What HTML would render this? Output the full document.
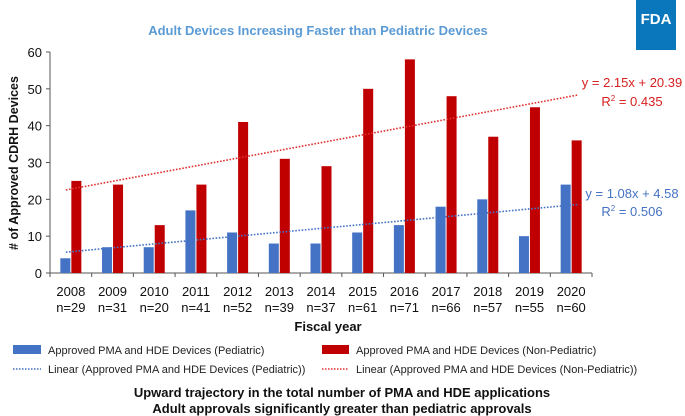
<!DOCTYPE html>
<html><head><meta charset="utf-8"><style>
body{margin:0;background:#fff;}
svg{display:block;font-family:"Liberation Sans",Arial,sans-serif;}
</style></head><body>
<svg id="chart" width="685" height="416" viewBox="0 0 685 416">
<rect x="636" y="0" width="40" height="50" fill="#0a77bd"/>
<text x="656" y="24" text-anchor="middle" fill="#fff" font-size="15" font-weight="bold">FDA</text>
<text x="318" y="35" text-anchor="middle" fill="#5b9bd5" font-size="13" font-weight="bold">Adult Devices Increasing Faster than Pediatric Devices</text>
<text transform="translate(18,163) rotate(-90)" text-anchor="middle" font-size="12.5" font-weight="bold" fill="#111"># of Approved CDRH Devices</text>
<g id="ticks"></g><g id="bars"></g><g id="trends"></g>
<text x="328" y="331" text-anchor="middle" font-size="13" font-weight="bold" fill="#111">Fiscal year</text>
<text x="632" y="87" text-anchor="middle" font-size="13" fill="#d62020">y = 2.15x + 20.39</text>
<text x="632" y="106" text-anchor="middle" font-size="13" fill="#d62020">R<tspan font-size="8" dy="-5">2</tspan><tspan dy="5"> = 0.435</tspan></text>
<text x="632" y="198" text-anchor="middle" font-size="13" fill="#4472c4">y = 1.08x + 4.58</text>
<text x="632" y="216" text-anchor="middle" font-size="13" fill="#4472c4">R<tspan font-size="8" dy="-5">2</tspan><tspan dy="5"> = 0.506</tspan></text>
<g font-size="11" fill="#222">
<rect x="13" y="345" width="28" height="9" fill="#4472c4"/>
<text x="48" y="354">Approved PMA and HDE Devices (Pediatric)</text>
<rect x="322" y="345" width="27" height="9" fill="#c00000"/>
<text x="356" y="354">Approved PMA and HDE Devices (Non-Pediatric)</text>
<line x1="13" y1="369" x2="41" y2="369" stroke="#4472c4" stroke-width="1.5" stroke-dasharray="1.5,1.5"/>
<text x="48" y="373">Linear (Approved PMA and HDE Devices (Pediatric))</text>
<line x1="322" y1="369" x2="349" y2="369" stroke="#e03030" stroke-width="1.5" stroke-dasharray="1.5,1.5"/>
<text x="356" y="373">Linear (Approved PMA and HDE Devices (Non-Pediatric))</text>
</g>
<text x="342" y="397" text-anchor="middle" font-size="13" font-weight="bold" fill="#111">Upward trajectory in the total number of PMA and HDE applications</text>
<text x="342" y="413" text-anchor="middle" font-size="13" font-weight="bold" fill="#111">Adult approvals significantly greater than pediatric approvals</text>
</svg>
<script>
const years=["2008","2009","2010","2011","2012","2013","2014","2015","2016","2017","2018","2019","2020"];
const totals=["n=29","n=31","n=20","n=41","n=52","n=39","n=37","n=61","n=71","n=66","n=57","n=55","n=60"];
const pediatric=[4,7,7,17,11,8,8,11,13,18,20,10,24];
const nonPediatric=[25,24,13,24,41,31,29,50,58,48,37,45,36];
const yTicks=[0,10,20,30,40,50,60];
const pedTrend=[1.08,4.58];
const nonPedTrend=[2.15,20.39];
const NS="http://www.w3.org/2000/svg";
const x0=50,x1=592,y0=273,yTop=52,yMax=60;
const band=(x1-x0)/years.length;
const yS=v=>y0-(y0-yTop)*v/yMax;
const xC=i=>x0+band*(i+0.5);
function mk(t,a,p){const e=document.createElementNS(NS,t);for(const k in a)e.setAttribute(k,a[k]);p.appendChild(e);return e;}
const tk=document.getElementById('ticks'),bars=document.getElementById('bars'),tr=document.getElementById('trends');
const ya=mk('line',{x1:x0,y1:yTop,x2:x0,y2:y0,stroke:'#555'},tk);


const xa=mk('line',{x1:x0,y1:y0,x2:x1,y2:y0,stroke:'#555'},tk);


yTicks.forEach(v=>{
  mk('line',{x1:x0-4,y1:yS(v),x2:x0,y2:yS(v),stroke:'#555'},tk);
  const t=mk('text',{x:x0-8,y:yS(v)+5,'text-anchor':'end','font-size':13,fill:'#111'},tk);t.textContent=v;
  
  
});
for(let i=0;i<=years.length;i++){mk('line',{x1:x0+band*i,y1:y0,x2:x0+band*i,y2:y0+4,stroke:'#555'},tk);}
years.forEach((y,i)=>{
  const t=mk('text',{x:xC(i),y:296,'text-anchor':'middle','font-size':13,fill:'#111'},tk);t.textContent=y;
  
  
  const n=mk('text',{x:xC(i),y:312,'text-anchor':'middle','font-size':13,fill:'#111'},tk);n.textContent=totals[i];
  
  
  const bw=10;
  const b1=mk('rect',{x:xC(i)-bw-0.5,y:yS(pediatric[i]),width:bw,height:y0-yS(pediatric[i]),fill:'#4472c4'},bars);
  
  
  const b2=mk('rect',{x:xC(i)+0.5,y:yS(nonPediatric[i]),width:bw,height:y0-yS(nonPediatric[i]),fill:'#c00000'},bars);
  
  
});
function trend(c,col,name){
  const xa=xC(0)-5,xb=xC(years.length-1)+7;
  const l=mk('line',{x1:xa,y1:yS(c[0]*1+c[1]),x2:xb,y2:yS(c[0]*years.length+c[1]),stroke:col,'stroke-width':1.6,'stroke-dasharray':'1.6,1.6'},tr);
  
  
}
trend(pedTrend,'#4472c4','pediatric-trendline');
trend(nonPedTrend,'#e03030','nonpediatric-trendline');
</script>
</body></html>
